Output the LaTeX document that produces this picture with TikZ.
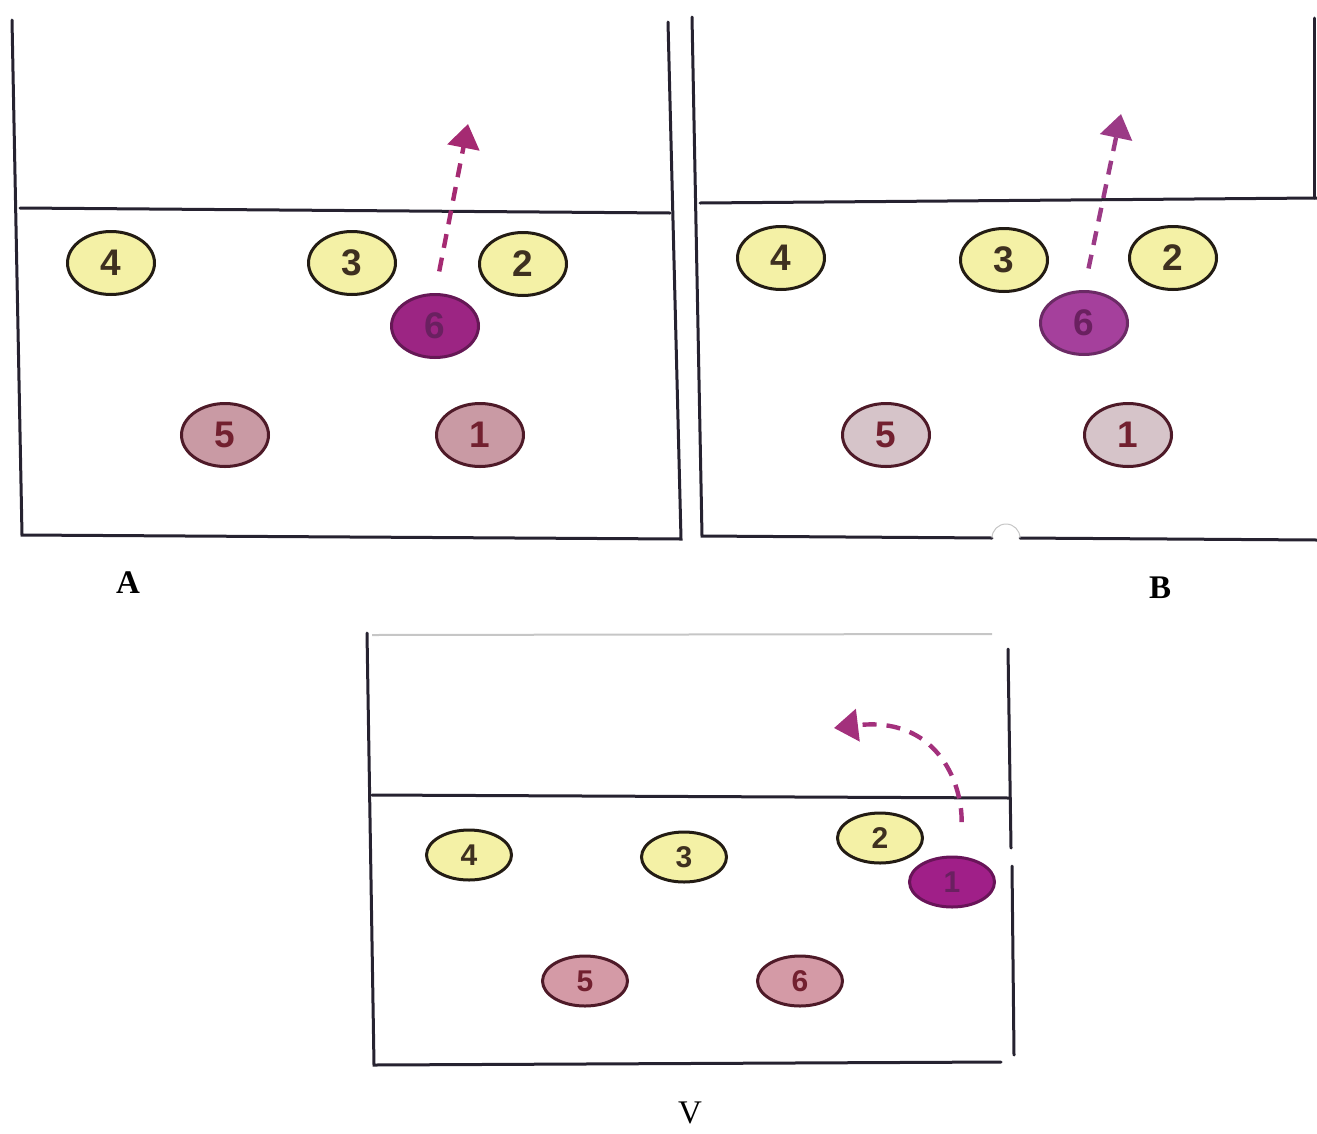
\documentclass[tikz,border=0pt]{standalone}
\usepackage{fontspec}
\setmainfont{Liberation Serif}
\setsansfont{Liberation Sans}
\usetikzlibrary{shapes.geometric,arrows.meta}

\definecolor{courtline}{HTML}{262230}
\definecolor{frontfill}{HTML}{F4F1A6}
\definecolor{frontline}{HTML}{231C14}
\definecolor{fronttext}{HTML}{3E3020}
\definecolor{roseA}{HTML}{C99AA4}
\definecolor{roseB}{HTML}{D6C4C9}
\definecolor{roseV}{HTML}{D49AA6}
\definecolor{roseline}{HTML}{4E1A28}
\definecolor{rosetext}{HTML}{72202F}
\definecolor{moverA}{HTML}{9C2583}
\definecolor{moverB}{HTML}{A5409C}
\definecolor{moverV}{HTML}{A01F88}
\definecolor{movertext}{HTML}{6A2060}
\definecolor{runA}{HTML}{A52A72}
\definecolor{runB}{HTML}{9B3A86}
\definecolor{runV}{HTML}{A3307C}

\begin{document}
\begin{tikzpicture}[x=1pt,y=-1pt,
  court/.style={draw=courtline, line width=3pt, line cap=round},
  player/.style={ellipse, line width=3pt, inner sep=0pt,
    minimum width=87pt, minimum height=63pt,
    font=\sffamily\bfseries\fontsize{37}{40}\selectfont},
  smallplayer/.style={player, minimum width=85pt, minimum height=50pt,
    font=\sffamily\bfseries\fontsize{30}{32}\selectfont},
  front/.style={fill=frontfill, draw=frontline, text=fronttext},
  back/.style={fill=#1, draw=roseline, text=rosetext},
  mover/.style={fill=#1, draw=#1!65!black, text=movertext},
  run/.style={draw=#1, line width=4.4pt, dash pattern=on 14pt off 10pt,
    -{Triangle[length=24pt,width=32pt,fill=#1]}},
  caption/.style={font=\fontsize{33}{36}\selectfont}
]
\useasboundingbox (0,0) rectangle (1317,1133);

% ---------- court A ----------
\draw[court] (12,20) -- (22,535) -- (681,539) -- (668,22);
\draw[court] (20,208) -- (670,213);
\node[player,front] (A4) at (111,263) {4};
\node[player,front] (A3) at (352,263) {3};
\node[player,front] (A2) at (523,264) {2};
\node[player,mover=moverA] (A6) at (435,326) {6};
\node[player,back=roseA] (A5) at (225,435) {5};
\node[player,back=roseA] (A1) at (480,435) {1};
\coordinate (Aend) at (468,124);
\draw[run=runA, shorten <=22pt] (A6.north) -- (Aend);
\node[caption,font=\bfseries\fontsize{33}{36}\selectfont] (capA) at (128,583) {A};

% ---------- court B ----------
\draw[court] (692,17) -- (702,536) -- (992,538);
\draw[court] (1020,538) -- (1317,540);
\draw[gray!45, line width=1pt] (992,538) arc[start angle=180, end angle=0, radius=14pt];
\draw[court] (700,203) -- (1317,198);
\draw[court] (1314,18) -- (1314,198);
\node[player,front] (B4) at (781,258) {4};
\node[player,front] (B3) at (1004,260) {3};
\node[player,front] (B2) at (1173,258) {2};
\node[player,mover=moverB] (B6) at (1084,323) {6};
\node[player,back=roseB] (B5) at (886,435) {5};
\node[player,back=roseB] (B1) at (1128,435) {1};
\coordinate (Bend) at (1121,114);
\draw[run=runB, shorten <=22pt] (B6.north) -- (Bend);
\node[caption,font=\bfseries\fontsize{33}{36}\selectfont] (capB) at (1160,588) {B};

% ---------- court V ----------
\draw[gray!45, line width=2pt] (372,635) -- (992,634);
\draw[court] (367,633) -- (374,1065) -- (1001,1062);
\draw[court] (1008,649) -- (1011,848);
\draw[court] (1012,866) -- (1014,1055);
\draw[court] (372,795) -- (1010,798);
\node[smallplayer,front] (V4) at (469,855) {4};
\node[smallplayer,front] (V3) at (684,857) {3};
\node[smallplayer,front] (V2) at (880,838) {2};
\node[smallplayer,mover=moverV] (V1) at (952,882) {1};
\node[smallplayer,back=roseV] (V5) at (585,981) {5};
\node[smallplayer,back=roseV] (V6) at (800,981) {6};
\coordinate (Vend) at (834,728);
\draw[run=runV, shorten <=34pt] (V1.70) .. controls (962,780) and (935,716) .. (Vend);
\node[caption] (capV) at (690,1113) {V};
\end{tikzpicture}
\end{document}
